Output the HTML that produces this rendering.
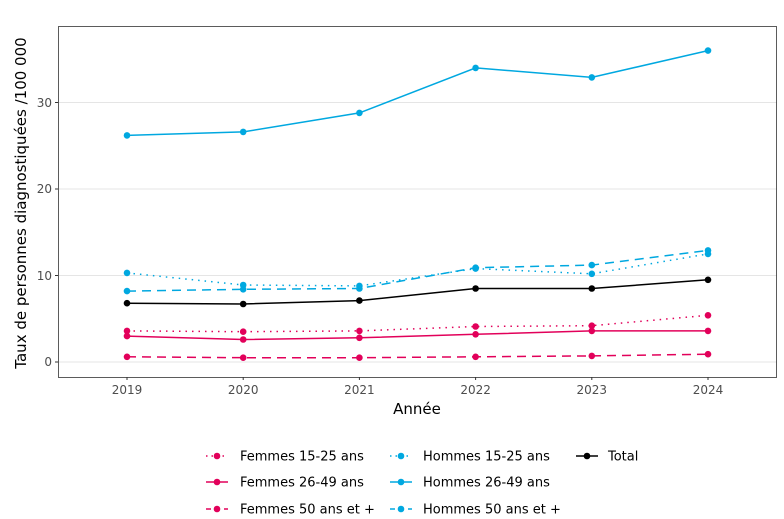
<!DOCTYPE html>
<html><head><meta charset="utf-8"><style>body{margin:0;background:#fff}svg{display:block;font-family:"DejaVu Sans","Liberation Sans",sans-serif}</style></head><body>
<svg width="784" height="519" viewBox="0 0 784 519" xmlns="http://www.w3.org/2000/svg">
<rect x="0" y="0" width="784" height="519" fill="#fff"/>
<g stroke="#e5e5e5" stroke-width="1">
<line x1="58" x2="777" y1="362" y2="362"/><line x1="58" x2="777" y1="275.5" y2="275.5"/><line x1="58" x2="777" y1="189" y2="189"/><line x1="58" x2="777" y1="102.5" y2="102.5"/>
</g>
<rect x="58.5" y="26.5" width="718" height="351" fill="none" stroke="#333" stroke-width="0.8"/>
<g font-size="12" fill="#4d4d4d" text-anchor="end">
<text x="52" y="366">0</text><text x="52" y="280">10</text><text x="52" y="193">20</text><text x="52" y="107">30</text>
</g>
<g stroke="#333"><line x1="55" x2="58" y1="362" y2="362"/><line x1="55" x2="58" y1="275.5" y2="275.5"/><line x1="55" x2="58" y1="189" y2="189"/><line x1="55" x2="58" y1="102.5" y2="102.5"/>
<line x1="127" x2="127" y1="377" y2="380"/><line x1="243.2" x2="243.2" y1="377" y2="380"/><line x1="359.4" x2="359.4" y1="377" y2="380"/><line x1="475.6" x2="475.6" y1="377" y2="380"/><line x1="591.8" x2="591.8" y1="377" y2="380"/><line x1="708" x2="708" y1="377" y2="380"/></g>
<g font-size="12" fill="#4d4d4d" text-anchor="middle">
<text x="127" y="394">2019</text><text x="243.2" y="394">2020</text><text x="359.4" y="394">2021</text><text x="475.6" y="394">2022</text><text x="591.8" y="394">2023</text><text x="708" y="394">2024</text>
</g>
<text x="417" y="414" font-size="15" text-anchor="middle" fill="#000">Année</text>
<text transform="translate(26,203) rotate(-90)" font-size="15" text-anchor="middle" fill="#000">Taux de personnes diagnostiquées /100 000</text>
<g fill="none" stroke-width="1.5">
<polyline stroke="#00A8E0" points="127,135.4 243.2,131.9 359.4,112.9 475.6,67.9 591.8,77.4 708,50.6"/>
<polyline stroke="#00A8E0" stroke-dasharray="1.5,5" points="127,272.9 243.2,285 359.4,285.9 475.6,268.6 591.8,273.8 708,253.9"/>
<polyline stroke="#00A8E0" stroke-dasharray="9,6" points="127,291.1 243.2,289.3 359.4,288.5 475.6,267.7 591.8,265.1 708,250.4"/>
<polyline stroke="#000" points="127,303.2 243.2,304 359.4,300.6 475.6,288.5 591.8,288.5 708,279.8"/>
<polyline stroke="#E2005A" stroke-dasharray="1.5,5" points="127,330.9 243.2,331.7 359.4,330.9 475.6,326.5 591.8,325.7 708,315.3"/>
<polyline stroke="#E2005A" points="127,336.1 243.2,339.5 359.4,337.8 475.6,334.3 591.8,330.9 708,330.9"/>
<polyline stroke="#E2005A" stroke-dasharray="9,6" points="127,356.8 243.2,357.7 359.4,357.7 475.6,356.8 591.8,355.9 708,354.2"/>
</g>
<g fill="#00A8E0">
<circle cx="127" cy="135.4" r="3.3"/><circle cx="243.2" cy="131.9" r="3.3"/><circle cx="359.4" cy="112.9" r="3.3"/><circle cx="475.6" cy="67.9" r="3.3"/><circle cx="591.8" cy="77.4" r="3.3"/><circle cx="708" cy="50.6" r="3.3"/>
<circle cx="127" cy="272.9" r="3.3"/><circle cx="243.2" cy="285" r="3.3"/><circle cx="359.4" cy="285.9" r="3.3"/><circle cx="475.6" cy="268.6" r="3.3"/><circle cx="591.8" cy="273.8" r="3.3"/><circle cx="708" cy="253.9" r="3.3"/>
<circle cx="127" cy="291.1" r="3.3"/><circle cx="243.2" cy="289.3" r="3.3"/><circle cx="359.4" cy="288.5" r="3.3"/><circle cx="475.6" cy="267.7" r="3.3"/><circle cx="591.8" cy="265.1" r="3.3"/><circle cx="708" cy="250.4" r="3.3"/>
</g>
<g fill="#000"><circle cx="127" cy="303.2" r="3.3"/><circle cx="243.2" cy="304" r="3.3"/><circle cx="359.4" cy="300.6" r="3.3"/><circle cx="475.6" cy="288.5" r="3.3"/><circle cx="591.8" cy="288.5" r="3.3"/><circle cx="708" cy="279.8" r="3.3"/></g>
<g fill="#E2005A">
<circle cx="127" cy="330.9" r="3.3"/><circle cx="243.2" cy="331.7" r="3.3"/><circle cx="359.4" cy="330.9" r="3.3"/><circle cx="475.6" cy="326.5" r="3.3"/><circle cx="591.8" cy="325.7" r="3.3"/><circle cx="708" cy="315.3" r="3.3"/>
<circle cx="127" cy="336.1" r="3.3"/><circle cx="243.2" cy="339.5" r="3.3"/><circle cx="359.4" cy="337.8" r="3.3"/><circle cx="475.6" cy="334.3" r="3.3"/><circle cx="591.8" cy="330.9" r="3.3"/><circle cx="708" cy="330.9" r="3.3"/>
<circle cx="127" cy="356.8" r="3.3"/><circle cx="243.2" cy="357.7" r="3.3"/><circle cx="359.4" cy="357.7" r="3.3"/><circle cx="475.6" cy="356.8" r="3.3"/><circle cx="591.8" cy="355.9" r="3.3"/><circle cx="708" cy="354.2" r="3.3"/>
</g>
<g stroke-width="1.5">
<line x1="206" x2="228" y1="456" y2="456" stroke="#E2005A" stroke-dasharray="1.5,4"/><circle cx="217" cy="456" r="3.3" fill="#E2005A"/>
<line x1="206" x2="228" y1="482" y2="482" stroke="#E2005A"/><circle cx="217" cy="482" r="3.3" fill="#E2005A"/>
<line x1="206" x2="228" y1="509" y2="509" stroke="#E2005A" stroke-dasharray="5,4"/><circle cx="217" cy="509" r="3.3" fill="#E2005A"/>
<line x1="390" x2="412" y1="456" y2="456" stroke="#00A8E0" stroke-dasharray="1.5,4"/><circle cx="401" cy="456" r="3.3" fill="#00A8E0"/>
<line x1="390" x2="412" y1="482" y2="482" stroke="#00A8E0"/><circle cx="401" cy="482" r="3.3" fill="#00A8E0"/>
<line x1="390" x2="412" y1="509" y2="509" stroke="#00A8E0" stroke-dasharray="5,4"/><circle cx="401" cy="509" r="3.3" fill="#00A8E0"/>
<line x1="576" x2="598" y1="456" y2="456" stroke="#000"/><circle cx="587" cy="456" r="3.3" fill="#000"/>
</g>
<g font-size="13" fill="#000">
<text x="240" y="460.5">Femmes 15-25 ans</text><text x="240" y="486.5">Femmes 26-49 ans</text><text x="240" y="513.5">Femmes 50 ans et +</text>
<text x="423" y="460.5">Hommes 15-25 ans</text><text x="423" y="486.5">Hommes 26-49 ans</text><text x="423" y="513.5">Hommes 50 ans et +</text>
<text x="608" y="460.5">Total</text>
</g>
</svg>
</body></html>
